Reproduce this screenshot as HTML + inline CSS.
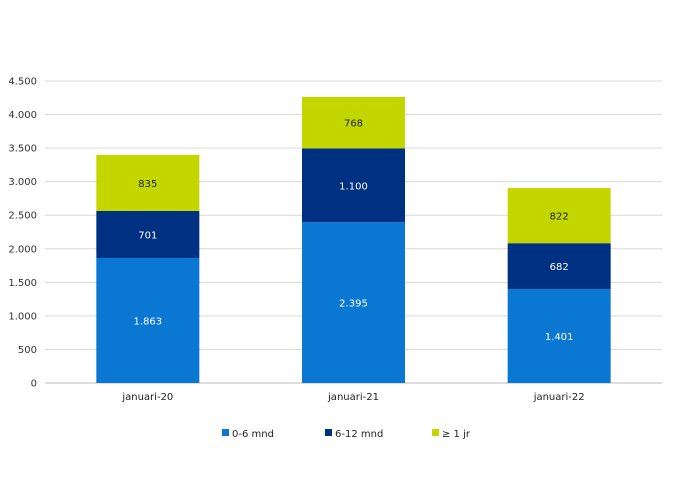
<!DOCTYPE html>
<html><head><meta charset="utf-8"><style>
body{margin:0;background:#fff;}
svg text{font-family:"DejaVu Sans","Liberation Sans",sans-serif;font-size:10px;}
</style></head><body>
<svg width="696" height="485">
<g id="grid"></g><g id="bars"></g><g id="axis"></g><g id="legend"></g>
</svg>
<script>
const categories=["januari-20","januari-21","januari-22"];
const s1=[1863,2395,1401];
const s2=[701,1100,682];
const s3=[835,768,822];
const seriesNames=["0-6 mnd","6-12 mnd","≥ 1 jr"];
const yTicks=[0,500,1000,1500,2000,2500,3000,3500,4000,4500];
const yTickLabels=["0","500","1.000","1.500","2.000","2.500","3.000","3.500","4.000","4.500"];
const colors=["#0a78d2","#003082","#c4d600"];
const textColors=["#fff","#fff","#222"];
const NS="http://www.w3.org/2000/svg";
const x0=45,x1=662,yb=383,yt=81,ymax=4500;
const y=v=>yb-(v/ymax)*(yb-yt);
const band=(x1-x0)/categories.length;
const bw=103;
function mk(t,a,p){const e=document.createElementNS(NS,t);for(const k in a)e.setAttribute(k,a[k]);p.appendChild(e);return e;}
const grid=document.getElementById('grid'),axis=document.getElementById('axis'),bars=document.getElementById('bars'),leg=document.getElementById('legend');
yTicks.forEach((v,i)=>{
 const l=mk('line',{x1:x0,x2:x1,y1:y(v),y2:y(v),stroke:i==0?'#bbb':'#d9d9d9','stroke-width':1},grid);
 
 const t=mk('text',{x:37,y:y(v)+3.5,'text-anchor':'end',fill:'#333'},axis);t.textContent=yTickLabels[i];
 
});
const series=[s1,s2,s3];
categories.forEach((c,i)=>{
 const cx=x0+band*(i+0.5);let base=0;
 series.forEach((s,j)=>{
  const v=s[i];
  const r=mk('rect',{x:cx-bw/2,y:y(base+v),width:bw,height:y(base)-y(base+v),fill:colors[j]},bars);
  
  const t=mk('text',{x:cx,y:(y(base)+y(base+v))/2+4,'text-anchor':'middle',fill:textColors[j]},bars);
  t.textContent=v.toLocaleString('de-DE');
  
  base+=v;
 });
 const t=mk('text',{x:cx,y:400,'text-anchor':'middle',fill:'#222','font-size':'9.5'},axis);t.textContent=c;
 
});
const lx=[222,325,432];
seriesNames.forEach((n,j)=>{
 const r=mk('rect',{x:lx[j],y:429,width:7,height:7,fill:colors[j]},leg);
 
 const t=mk('text',{x:lx[j]+10,y:437,fill:'#222','font-size':'12'},leg);t.textContent=n;
 
});
</script>
</body></html>
